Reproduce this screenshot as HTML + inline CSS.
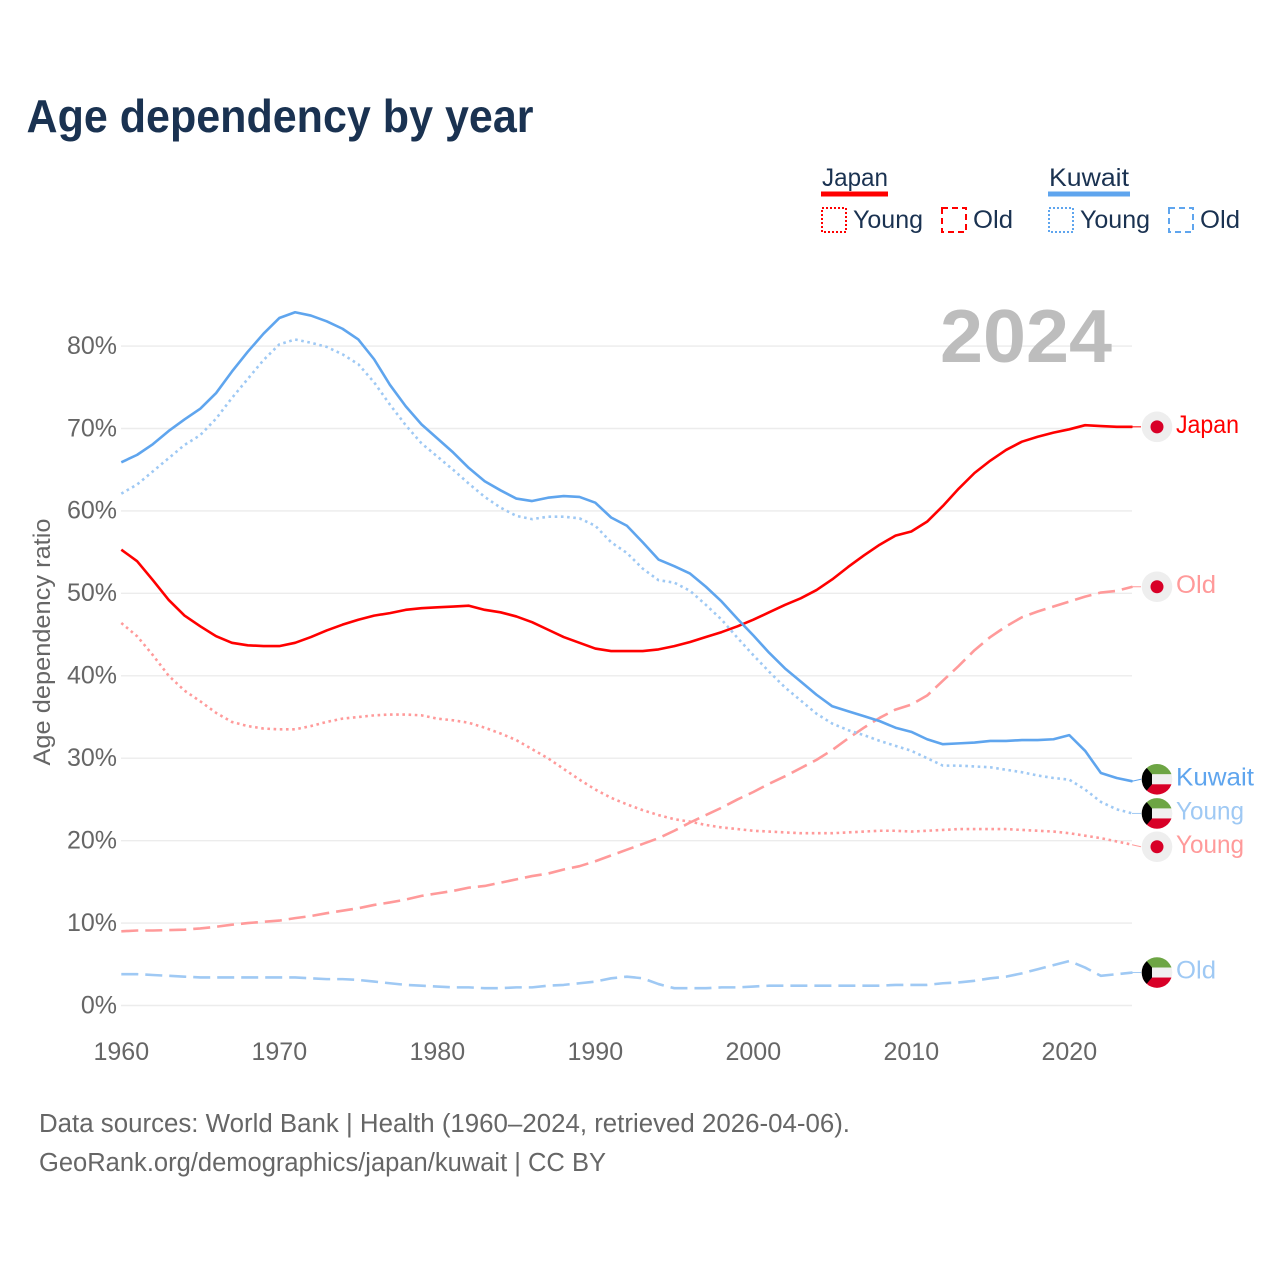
<!DOCTYPE html>
<html lang="en">
<head>
<meta charset="utf-8">
<title>Age dependency by year</title>
<style>
html,body{margin:0;padding:0;background:#fff;width:1280px;height:1280px;overflow:hidden}
svg{display:block}
text{font-family:"Liberation Sans",sans-serif}
</style>
</head>
<body>
<svg id="chart" width="1280" height="1280" viewBox="0 0 1280 1280" xmlns="http://www.w3.org/2000/svg">
  <text x="26.5" y="132" font-size="46" font-weight="700" fill="#1a3251" textLength="507" lengthAdjust="spacingAndGlyphs">Age dependency by year</text>

  <g fill="#1a3251" font-size="25">
    <text x="822" y="186" textLength="66" lengthAdjust="spacingAndGlyphs">Japan</text>
    <rect x="821" y="191.5" width="67" height="5" fill="#ff0000"/>
    <rect x="822" y="208" width="24" height="24" fill="none" stroke="#ff0000" stroke-width="2" stroke-dasharray="2 2"/>
    <text x="853" y="228" textLength="70" lengthAdjust="spacingAndGlyphs">Young</text>
    <rect x="942" y="208" width="24" height="24" fill="none" stroke="#ff0000" stroke-width="2" stroke-dasharray="6 4"/>
    <text x="973" y="228" textLength="40" lengthAdjust="spacingAndGlyphs">Old</text>
    <text x="1049" y="186" textLength="80" lengthAdjust="spacingAndGlyphs">Kuwait</text>
    <rect x="1048" y="191.5" width="82" height="5" fill="#5fa5ee"/>
    <rect x="1049" y="208" width="24" height="24" fill="none" stroke="#5fa5ee" stroke-width="2" stroke-dasharray="2 2"/>
    <text x="1080" y="228" textLength="70" lengthAdjust="spacingAndGlyphs">Young</text>
    <rect x="1169" y="208" width="24" height="24" fill="none" stroke="#5fa5ee" stroke-width="2" stroke-dasharray="6 4"/>
    <text x="1200" y="228" textLength="40" lengthAdjust="spacingAndGlyphs">Old</text>
  </g>

  <g id="grid"></g>
  <g id="ticks"></g>

  <text transform="translate(50,642) rotate(-90)" text-anchor="middle" font-size="24.5" fill="#666666" textLength="247" lengthAdjust="spacingAndGlyphs">Age dependency ratio</text>
  <text x="1112" y="362" text-anchor="end" font-size="75" font-weight="700" fill="#bdbdbd" textLength="172" lengthAdjust="spacingAndGlyphs">2024</text>

  <g id="series"></g>
  <g id="ends"></g>

  <text x="39" y="1132" font-size="25.5" fill="#666666" textLength="811" lengthAdjust="spacingAndGlyphs">Data sources: World Bank | Health (1960–2024, retrieved 2026-04-06).</text>
  <text x="39" y="1171" font-size="25.5" fill="#666666" textLength="567" lengthAdjust="spacingAndGlyphs">GeoRank.org/demographics/japan/kuwait | CC BY</text>
</svg>
<script>
const firstYear = 1960;
const xTicks = [1960, 1970, 1980, 1990, 2000, 2010, 2020];
const yTicks = [0, 10, 20, 30, 40, 50, 60, 70, 80];

const japanTotal = [55.3,53.9,51.6,49.2,47.3,46.0,44.8,44.0,43.7,43.6,43.6,44.0,44.7,45.5,46.2,46.8,47.3,47.6,48.0,48.2,48.3,48.4,48.5,48.0,47.7,47.2,46.5,45.6,44.7,44.0,43.3,43.0,43.0,43.0,43.2,43.6,44.1,44.7,45.3,46.0,46.8,47.7,48.6,49.4,50.4,51.7,53.2,54.6,55.9,57.0,57.5,58.7,60.6,62.7,64.6,66.1,67.4,68.4,69.0,69.5,69.9,70.4,70.3,70.2,70.2];
const japanYoung = [46.4,44.8,42.5,40.0,38.2,36.9,35.5,34.4,33.9,33.6,33.5,33.5,33.9,34.4,34.8,35.0,35.2,35.3,35.3,35.2,34.8,34.6,34.3,33.7,33.0,32.2,31.1,30.0,28.7,27.4,26.2,25.2,24.4,23.7,23.1,22.6,22.3,21.9,21.6,21.4,21.2,21.1,21.0,20.9,20.9,20.9,21.0,21.1,21.2,21.2,21.1,21.2,21.3,21.4,21.4,21.4,21.4,21.3,21.2,21.1,20.9,20.6,20.3,19.9,19.5];
const japanOld = [9.0,9.1,9.1,9.15,9.2,9.35,9.55,9.8,10.0,10.15,10.3,10.6,10.85,11.2,11.5,11.8,12.2,12.5,12.85,13.3,13.6,13.9,14.3,14.5,14.9,15.3,15.7,16.0,16.5,16.9,17.5,18.2,18.9,19.6,20.3,21.2,22.2,23.1,24.0,25.0,25.9,26.9,27.8,28.8,29.8,31.0,32.4,33.7,34.9,35.9,36.5,37.6,39.4,41.2,43.1,44.7,46.0,47.1,47.8,48.4,49.0,49.6,50.1,50.3,50.8];
const kuwaitTotal = [65.9,66.8,68.1,69.7,71.1,72.4,74.3,76.9,79.3,81.5,83.4,84.1,83.7,83.0,82.1,80.8,78.4,75.3,72.7,70.5,68.8,67.1,65.2,63.6,62.5,61.5,61.2,61.6,61.8,61.7,61.0,59.2,58.2,56.2,54.1,53.3,52.4,50.8,49.0,46.9,44.9,42.8,40.9,39.3,37.7,36.3,35.7,35.1,34.5,33.7,33.2,32.3,31.7,31.8,31.9,32.1,32.1,32.2,32.2,32.3,32.8,30.9,28.2,27.6,27.2];
const kuwaitYoung = [62.1,63.2,64.8,66.4,68.0,69.2,71.2,73.7,76.0,78.3,80.2,80.8,80.4,79.9,79.0,77.8,75.6,72.9,70.4,68.2,66.6,65.0,63.3,61.7,60.4,59.4,59.0,59.3,59.3,59.1,58.2,56.2,54.9,53.0,51.6,51.3,50.3,48.6,46.8,44.6,42.5,40.5,38.6,37.0,35.4,34.2,33.4,32.8,32.1,31.5,30.9,30.0,29.1,29.1,29.0,28.9,28.6,28.3,27.9,27.6,27.4,26.2,24.7,23.8,23.3];
const kuwaitOld = [3.8,3.8,3.7,3.6,3.5,3.4,3.4,3.4,3.4,3.4,3.4,3.4,3.3,3.2,3.2,3.1,2.9,2.7,2.5,2.4,2.3,2.2,2.2,2.1,2.1,2.2,2.2,2.4,2.5,2.7,2.9,3.3,3.5,3.3,2.6,2.1,2.1,2.1,2.2,2.2,2.3,2.4,2.4,2.4,2.4,2.4,2.4,2.4,2.4,2.5,2.5,2.5,2.7,2.8,3.0,3.3,3.5,3.9,4.4,4.9,5.4,4.6,3.6,3.8,4.0];

const NS = 'http://www.w3.org/2000/svg';
function xScale(year) { return 121.3 + (year - firstYear) * 15.8; }
function yScale(pct) { return 1005.5 - pct * 8.243; }
function mk(tag, attrs, parent) {
  const el = document.createElementNS(NS, tag);
  for (const k in attrs) el.setAttribute(k, attrs[k]);
  parent.appendChild(el);
  return el;
}

const gridG = document.getElementById('grid');
const ticksG = document.getElementById('ticks');
const seriesG = document.getElementById('series');
const endsG = document.getElementById('ends');

yTicks.forEach(function (v) {
  const line = mk('line', {x1: 121, x2: 1132, y1: yScale(v), y2: yScale(v), stroke: '#ececec', 'stroke-width': 1.4}, gridG);
  
  
  const t = mk('text', {x: 117, y: yScale(v) + 7.8, 'text-anchor': 'end', 'font-size': 25, fill: '#666666'}, ticksG);
  t.textContent = v + '%';
  
  
});
xTicks.forEach(function (v) {
  const t = mk('text', {x: xScale(v), y: 1060, 'text-anchor': 'middle', 'font-size': 25, fill: '#666666'}, ticksG);
  t.textContent = v;
  
  
});

function drawLine(values, color, dash, name) {
  const d = values.map(function (v, i) {
    return (i ? 'L' : 'M') + xScale(firstYear + i).toFixed(2) + ' ' + yScale(v).toFixed(2);
  }).join('');
  const p = mk('path', {d: d, fill: 'none', stroke: color, 'stroke-width': 2.6, 'stroke-linejoin': 'round'}, seriesG);
  if (dash) p.setAttribute('stroke-dasharray', dash);
  
  
}

const RED = '#ff0000', RED_L = '#ff9a9a', BLUE = '#5fa5ee', BLUE_L = '#9fc9f4';
const DOT = '2.6 3.6', DASH = '17 7';
drawLine(kuwaitOld, BLUE_L, DASH, 'line-kuwait-old');
drawLine(japanOld, RED_L, DASH, 'line-japan-old');
drawLine(japanYoung, RED_L, DOT, 'line-japan-young');
drawLine(kuwaitYoung, BLUE_L, DOT, 'line-kuwait-young');
drawLine(japanTotal, RED, null, 'line-japan-total');
drawLine(kuwaitTotal, BLUE, null, 'line-kuwait-total');

let clipId = 0;
function flag(cx, cy, kind) {
  const g = mk('g', {}, endsG);
  
  
  if (kind === 'japan') {
    mk('circle', {cx: cx, cy: cy, r: 15.3, fill: '#eeeeee'}, g);
    mk('circle', {cx: cx, cy: cy, r: 6.5, fill: '#d80027'}, g);
    return;
  }
  const id = 'flagclip' + (clipId++);
  const cp = mk('clipPath', {id: id}, g);
  mk('circle', {cx: cx, cy: cy, r: 15.3}, cp);
  const inner = mk('g', {'clip-path': 'url(#' + id + ')'}, g);
  mk('rect', {x: cx - 16, y: cy - 16, width: 32, height: 11, fill: '#6da544'}, inner);
  mk('rect', {x: cx - 16, y: cy - 5, width: 32, height: 10, fill: '#f0f0f0'}, inner);
  mk('rect', {x: cx - 16, y: cy + 5, width: 32, height: 11, fill: '#d80027'}, inner);
  mk('polygon', {points: [cx - 16, cy - 16, cx - 10, cy - 11, cx - 5, cy - 5, cx - 5, cy + 5, cx - 10, cy + 11, cx - 16, cy + 16].join(' '), fill: '#000000'}, inner);
}

function endLabel(values, color, lineColor, text, kind, nudge, name) {
  const y0 = yScale(values[values.length - 1]);
  const cy = y0 + nudge;
  const c = mk('line', {x1: 1132, y1: y0, x2: 1141, y2: cy, stroke: lineColor, 'stroke-width': 1}, endsG);
  
  
  flag(1157, cy, kind);
  const t = mk('text', {x: 1176, y: cy + 6.2, 'font-size': 25, fill: color}, endsG);
  t.textContent = text;
  t.setAttribute('textLength', text.length === 3 ? 40 : text === 'Kuwait' ? 78 : text === 'Young' ? 68 : 63);
  t.setAttribute('lengthAdjust', 'spacingAndGlyphs');
  
  
}

endLabel(japanTotal, RED, RED, 'Japan', 'japan', 0, 'end-japan-total');
endLabel(japanOld, RED_L, RED_L, 'Old', 'japan', 0, 'end-japan-old');
endLabel(kuwaitTotal, BLUE, BLUE, 'Kuwait', 'kuwait', -2, 'end-kuwait-total');
endLabel(kuwaitYoung, BLUE_L, BLUE_L, 'Young', 'kuwait', 0, 'end-kuwait-young');
endLabel(japanYoung, RED_L, RED_L, 'Young', 'japan', 2, 'end-japan-young');
endLabel(kuwaitOld, BLUE_L, BLUE_L, 'Old', 'kuwait', 0, 'end-kuwait-old');
</script>
</body>
</html>
